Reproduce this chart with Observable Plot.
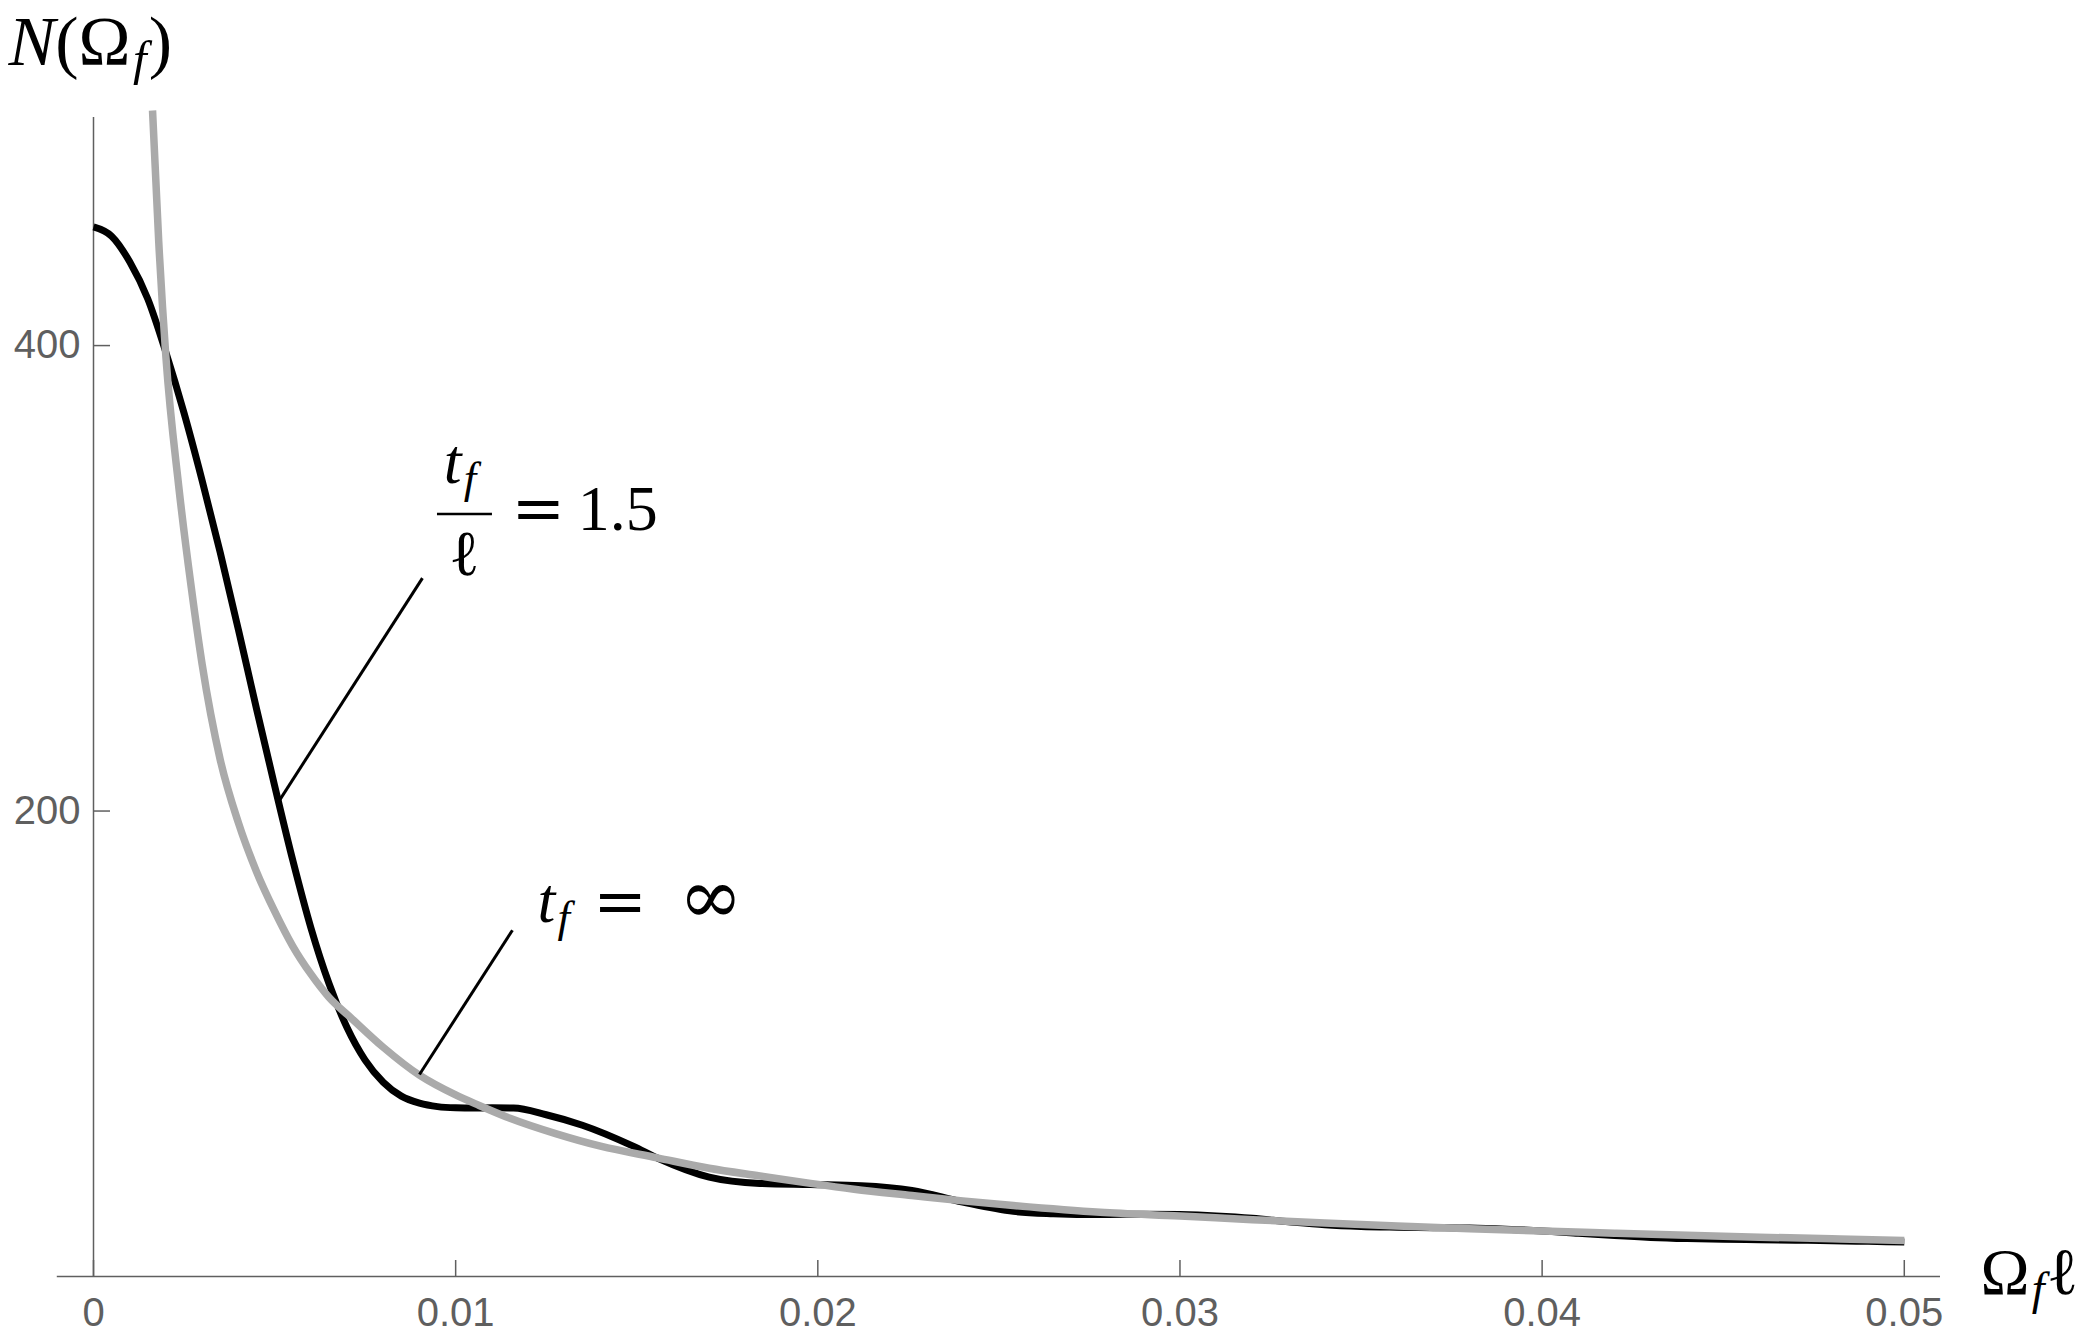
<!DOCTYPE html>
<html>
<head>
<meta charset="utf-8">
<script src="https://cdn.jsdelivr.net/npm/d3@7"></script>
<script src="https://cdn.jsdelivr.net/npm/@observablehq/plot@0.6"></script>
<style>
  html, body { margin: 0; padding: 0; background: #fff; }
  #chart { width: 2084px; height: 1337px; }
</style>
</head>
<body>
<div id="chart"></div>
<script>
// ---- Data ----
// finite t_f/ℓ = 1.5 curve (black)
const xFinite = [0, 0.0005, 0.001, 0.0015, 0.002, 0.0025, 0.003, 0.0035, 0.004, 0.0045, 0.005, 0.0055, 0.006, 0.0065, 0.007, 0.0075, 0.008, 0.0085, 0.009, 0.0095, 0.010, 0.0105, 0.011, 0.0116, 0.0125, 0.0135, 0.0149, 0.0156, 0.017, 0.0184, 0.0198, 0.0212, 0.0226, 0.024, 0.0254, 0.0265, 0.0278, 0.029, 0.030, 0.031, 0.032, 0.033, 0.034, 0.035, 0.036, 0.037, 0.038, 0.039, 0.040, 0.041, 0.042, 0.043, 0.044, 0.045, 0.046, 0.047, 0.048, 0.049, 0.050];
const nFinite = [451, 447, 436, 420, 397, 371, 342, 311, 278, 244, 211, 179, 150, 126, 107, 93, 83.5, 77.5, 74.5, 73, 72.5, 72.4, 72.5, 72.4, 69.5, 65, 56, 50.7, 42.7, 40, 39.5, 39, 37, 32, 28, 27, 26.6, 26.8, 26.6, 26, 25, 23.5, 22.2, 21.5, 21.2, 21, 20.8, 20.3, 19.6, 18.6, 17.6, 16.8, 16.3, 16, 15.8, 15.6, 15.4, 15.1, 14.8];

// t_f = ∞ curve (gray)
const xInfinite = [0.00163, 0.0018, 0.002, 0.00235, 0.0027, 0.003, 0.0035, 0.004, 0.0045, 0.005, 0.0055, 0.006, 0.0065, 0.00712, 0.008, 0.009, 0.010, 0.01065, 0.0115, 0.01276, 0.014, 0.01557, 0.017, 0.0184, 0.0198, 0.021, 0.0226, 0.024, 0.0254, 0.0278, 0.030, 0.032, 0.034, 0.036, 0.038, 0.040, 0.042, 0.044, 0.046, 0.048, 0.050];
const nInfinite = [501, 445, 395, 340, 296, 263, 222, 195, 174, 157, 142, 130, 120, 111, 98.5, 86.5, 78, 73.5, 68, 61.4, 56, 51, 46.5, 43.2, 40, 37.5, 34.8, 32.5, 30.5, 27.6, 26, 24.4, 23, 21.7, 20.5, 19.5, 18.6, 17.7, 16.9, 16.2, 15.5];

// axes
const xTicks = [0, 0.01, 0.02, 0.03, 0.04, 0.05];
const xTickLabels = ["0", "0.01", "0.02", "0.03", "0.04", "0.05"];
const yTicks = [200, 400];
const yTickLabels = ["200", "400"];
const xDomain = [0, 0.051];
const yDomain = [0, 498];
const xAxisStart = -0.001;

// labels ("$" marks math text, "_x" is a subscript)
const xLabel = "$Ω_fℓ";
const yLabel = "$N(Ω_f)";

// annotations: fraction parts (centred) and equations (left-aligned)
const fracTexts = ["$t_f", "$ℓ"];
const fracX = [0.01012, 0.01024];
const fracY = [340.9, 301.4];
const eqTexts = ["$=\u20091.5", "$t_f\u2004=\u2002∞"];
const eqX = [0.01154, 0.012258];
const eqY = [320.7, 152.2];
const fracBarX1 = [0.009498];
const fracBarX2 = [0.011016];
const fracBarY = [327.6];
const calloutX1 = [0.005135, 0.009001];
const calloutY1 = [204.6, 86.8];
const calloutX2 = [0.009083, 0.011568];
const calloutY2 = [300.1, 148.8];

// ---- tables built from the arrays ----
const finite = xFinite.map((x, i) => ({x, n: nFinite[i]}));
const infinite = xInfinite.map((x, i) => ({x, n: nInfinite[i]}));
const fracLabels = fracTexts.map((t, i) => ({t, x: fracX[i], y: fracY[i]}));
const eqLabels = eqTexts.map((t, i) => ({t, x: eqX[i], y: eqY[i]}));
const callouts = calloutX1.map((x1, i) => ({x1, y1: calloutY1[i], x2: calloutX2[i], y2: calloutY2[i]}));
const bars = fracBarY.map((y, i) => ({y, x1: fracBarX1[i], x2: fracBarX2[i]}));

const axisGray = "#5f5f5f";
const mathFont = "'Liberation Serif', 'DejaVu Serif', serif";
const tickFont = "'Liberation Sans', Arial, sans-serif";

const plot = Plot.plot({
  width: 2084,
  height: 1337,
  marginLeft: 93,
  marginRight: 144,
  marginTop: 117,
  marginBottom: 61,
  style: {background: "#fff", overflow: "visible"},
  x: {domain: xDomain},
  y: {domain: yDomain},
  marks: [
    Plot.ruleY([0], {x1: xAxisStart, x2: xDomain[1], stroke: axisGray, strokeWidth: 1.5}),
    Plot.ruleX([0], {y1: yDomain[0], y2: yDomain[1], stroke: axisGray, strokeWidth: 1.5}),
    Plot.axisX({
      ticks: xTicks, tickFormat: d => xTickLabels[xTicks.indexOf(d)],
      tickSize: -16, tickPadding: 37, color: axisGray, strokeWidth: 1.5,
      fontSize: 40, fontFamily: tickFont, label: null
    }),
    Plot.axisY({
      ticks: yTicks, tickFormat: d => yTickLabels[yTicks.indexOf(d)],
      tickSize: -17, tickPadding: 30, color: axisGray, strokeWidth: 1.5,
      fontSize: 40, fontFamily: tickFont, label: null
    }),
    Plot.line(finite, {x: "x", y: "n", stroke: "#000", strokeWidth: 7, curve: "monotone-x", strokeLinecap: "butt"}),
    Plot.line(infinite, {x: "x", y: "n", stroke: "#aaaaaa", strokeWidth: 7.5, curve: "monotone-x", strokeLinecap: "butt"}),
    Plot.link(callouts, {x1: "x1", y1: "y1", x2: "x2", y2: "y2", stroke: "#000", strokeWidth: 3}),
    Plot.ruleY(bars, {y: "y", x1: "x1", x2: "x2", stroke: "#000", strokeWidth: 2.5}),
    Plot.text(fracLabels, {x: "x", y: "y", text: "t", textAnchor: "middle", lineAnchor: "bottom", fontSize: 64, fontFamily: mathFont, fill: "#000"}),
    Plot.text(eqLabels, {x: "x", y: "y", text: "t", textAnchor: "start", lineAnchor: "bottom", fontSize: 64, fontFamily: mathFont, fill: "#000"}),
    Plot.text([yLabel], {frameAnchor: "top-left", text: d => d, dx: -85, dy: -53, textAnchor: "start", lineAnchor: "bottom", fontSize: 70, fontFamily: mathFont, fill: "#000"}),
    Plot.text([xLabel], {frameAnchor: "bottom-right", text: d => d, dx: 40, dy: 17, textAnchor: "start", lineAnchor: "bottom", fontSize: 66, fontFamily: mathFont, fill: "#000"})
  ]
});

// ---- turn "$..." strings into math-style tspans (italic letters, subscripts) ----
const SVGNS = "http://www.w3.org/2000/svg";
function mathify(el) {
  const src = el.textContent.slice(1);
  el.textContent = "";
  let inSub = false;
  for (let i = 0; i < src.length; i++) {
    let ch = src[i];
    let sub = false;
    if (ch === "_") { sub = true; ch = src[++i]; }
    const ts = document.createElementNS(SVGNS, "tspan");
    ts.textContent = ch;
    if (/[A-Za-z]/.test(ch)) ts.setAttribute("font-style", "italic");
    if (ch === "=") ts.setAttribute("font-family", "'DejaVu Serif', serif");
    if (ch === "∞") { ts.setAttribute("font-family", "'DejaVu Serif', serif"); ts.setAttribute("font-size", "120%"); }
    if (sub) {
      ts.setAttribute("font-size", "70%");
      if (!inSub) ts.setAttribute("dy", "0.22em");
      ts.setAttribute("dx", "0.05em");
      inSub = true;
    } else if (inSub) {
      ts.setAttribute("dy", "-0.15em");
      ts.setAttribute("dx", "0.03em");
      inSub = false;
    }
    el.appendChild(ts);
  }
}
plot.querySelectorAll("text").forEach(t => {
  if (t.textContent.startsWith("$")) mathify(t);
});

document.getElementById("chart").appendChild(plot);
</script>
</body>
</html>
